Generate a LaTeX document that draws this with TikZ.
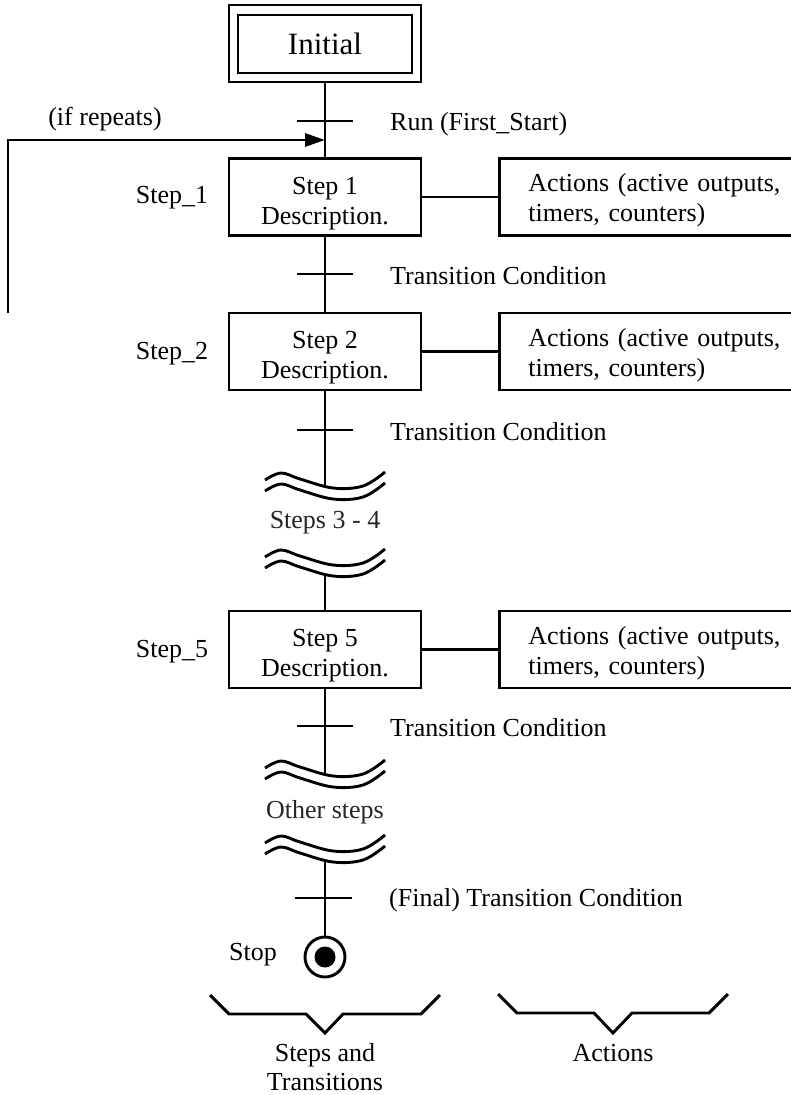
\documentclass[tikz,border=0pt]{standalone}
\usepackage{fontspec}
\setmainfont{Liberation Serif}
\usetikzlibrary{arrows.meta}
\newcommand\fs{\fontsize{26}{30}\selectfont}
\newcommand\sr{\rule{0pt}{30pt}}
\newcommand\brk[1]{%
  \draw[lw] plot[smooth,tension=0.6] coordinates {(265,#1) (281,#1-7) (300,#1-1) (333,#1+8) (363,#1+6) (385,#1-8)};
  \draw[lw] plot[smooth,tension=0.6] coordinates {(265,#1+11) (281,#1+4) (300,#1+10) (333,#1+19) (363,#1+17) (385,#1+3)};
}
\tikzset{
  x=1pt, y=-1pt,
  lw/.style={line width=2.9pt},
  stepbox/.style={draw, lw, minimum width=192pt, minimum height=77pt, align=center, font=\fs, inner sep=0pt},
  actbox/.style={draw, lw, minimum height=77pt, text width=262pt, inner xsep=29pt, align=left, font=\fs, anchor=west,
    execute at begin node={\rule{0pt}{25pt}}},
  lbl/.style={font=\fs, inner sep=0pt},
  tlbl/.style={font=\fs, inner sep=0pt, anchor=west},
}
\begin{document}
\begin{tikzpicture}
\clip (0,0) rectangle (791,1095);
\fill[white] (0,0) rectangle (791,1095);
% initial
\node[draw, lw, minimum width=192pt, minimum height=77pt] (init) at (325,43.5) {};
\node[draw, lw, minimum width=174pt, minimum height=58pt, font=\fontsize{31}{36}\selectfont, inner sep=0pt] (initin) at (325,44) {Initial};
% steps
\node[stepbox] (s1) at (325,197) {\sr Step 1\\Description.};
\node[stepbox] (s2) at (325,351.5) {\sr Step 2\\Description.};
\node[stepbox] (s5) at (325,649.5) {\sr Step 5\\Description.};
\node[lbl] (l1) at (172,198) {Step\_1};
\node[lbl] (l2) at (172,354) {Step\_2};
\node[lbl] (l5) at (172,652) {Step\_5};
% actions
\node[actbox] (a1) at (498,197) {Actions (active outputs,\\timers, counters)};
\node[actbox] (a2) at (498,351.5) {Actions (active outputs,\\timers, counters)};
\node[actbox] (a5) at (498,649.5) {Actions (active outputs,\\timers, counters)};
\draw[lw] (s1.east) -- (a1.west);
\draw[lw] (s2.east) -- (a2.west);
\draw[lw] (s5.east) -- (a5.west);
% breaks
\brk{480}
\brk{557}
\brk{768}
\brk{843}
\coordinate (wA) at (325,485.5);
\coordinate (wB) at (325,573.5);
\coordinate (wC) at (325,773.5);
\coordinate (wD) at (325,859.5);
\node[lbl, text=black!85] (g34) at (325,523) {Steps 3 - 4};
\node[lbl, text=black!85] (go) at (325,812) {Other steps};
% stop
\node[draw, lw, circle, minimum size=40pt, inner sep=0pt] (stop) at (325,957) {};
\fill (stop.center) circle (10.5);
\node[lbl] (stopl) at (253,955) {Stop};
% vertical connectors
\draw[lw] (init.south) -- (s1.north);
\draw[lw] (s1.south) -- (s2.north);
\draw[lw] (s2.south) -- (wA);
\draw[lw] (wB) -- (s5.north);
\draw[lw] (s5.south) -- (wC);
\draw[lw] (wD) -- (stop.north);
% transitions
\draw[lw] (297,121) -- (353,121);
\draw[lw] (297,274) -- (353,274);
\draw[lw] (297,430) -- (353,430);
\draw[lw] (297,726) -- (353,726);
\draw[lw] (295,898) -- (352,898);
\node[tlbl] (t0) at (390,124) {Run (First\_Start)};
\node[tlbl] (t1) at (390,276) {Transition Condition};
\node[tlbl] (t2) at (390,432) {Transition Condition};
\node[tlbl] (t5) at (390,728) {Transition Condition};
\node[tlbl] (tf) at (389,900) {(Final) Transition Condition};
% loop back
\coordinate (loop) at (8,313);
\coordinate (entry) at (325,140);
\draw[lw, -{Triangle[length=20pt,width=13pt]}] (loop) |- (entry);
\node[lbl] (rep) at (105,119) {(if repeats)};
% braces
\draw[lw] (210,995) -- (229,1014) -- (306,1014) -- (325,1033) -- (343,1014) -- (421,1014) -- (440,995);
\draw[lw] (498,994) -- (517,1013) -- (594,1013) -- (613,1033) -- (632,1013) -- (709,1013) -- (728,994);
\node[lbl, align=center, font=\fontsize{26}{29}\selectfont] (bst) at (325,1067) {Steps and\\Transitions};
\node[lbl] (bac) at (613,1053) {Actions};
\end{tikzpicture}
\end{document}
